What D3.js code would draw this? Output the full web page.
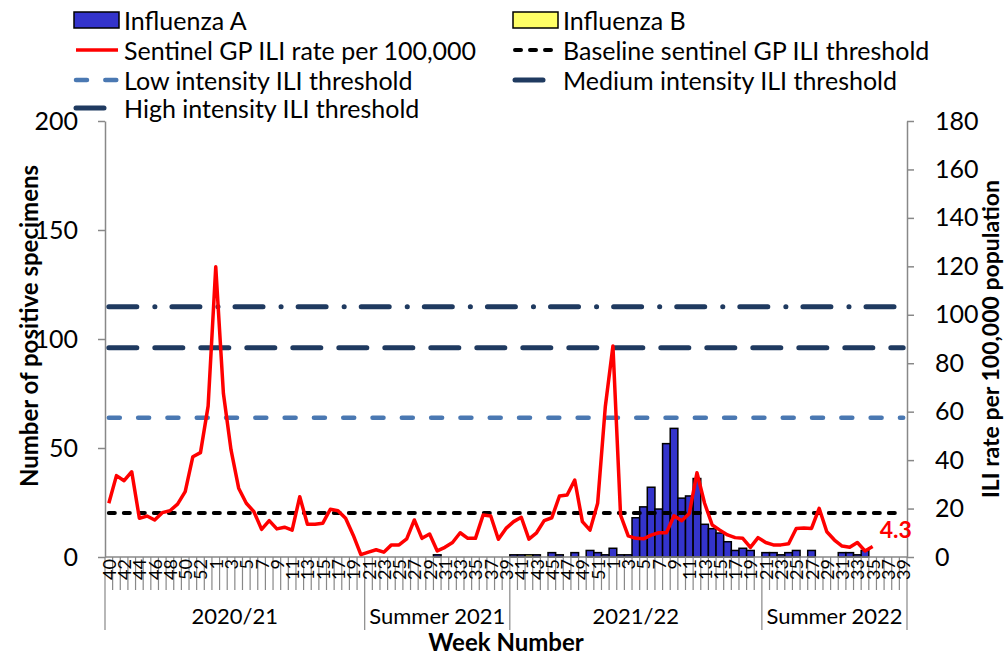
<!DOCTYPE html>
<html>
<head>
<meta charset="utf-8">
<script src="https://cdn.jsdelivr.net/npm/d3@7"></script>
<style>
  body { margin: 0; background: #fff; }
  text { font-family: Lato, "Open Sans", sans-serif; fill: #000; }
</style>
</head>
<body>
<div id="chart"></div>
<script>
// week number of every category on the x axis (Oct 2020 -> Sep 2022)
const weekNums = [40,41,42,43,44,45,46,47,48,49,50,51,52,53,1,2,3,4,5,6,7,8,9,10,11,12,13,14,15,16,17,18,19,20,
  21,22,23,24,25,26,27,28,29,30,31,32,33,34,35,36,37,38,39,
  40,41,42,43,44,45,46,47,48,49,50,51,52,1,2,3,4,5,6,7,8,9,10,11,12,13,14,15,16,17,18,19,20,
  21,22,23,24,25,26,27,28,29,30,31,32,33,34,35,36,37,38,39];
const seasonNames = ["2020/21", "Summer 2021", "2021/22", "Summer 2022"];
const seasonWeeks = [34, 19, 33, 19];

// positive specimens (left axis)
const fluA = [0,0,0,0,0,0,0,0,0,0,0,0,0,0,0,0,0,0,0,0,0,0,0,0,0,0,0,0,0,0,0,0,0,0,
  0,0,0,0,0,0,0,0,0,1,0,0,0,0,0,0,0,0,0,
  1,1,0,1,0,2,1,0,2,0,3,2,1,4,1,1,18,23,32,22,52,59,27,28,36,15,13,11,7,3,4,3,
  0,2,2,1,2,3,0,3,0,0,0,2,2,1,3,0,0,0,0];
const fluB = [0,0,0,0,0,0,0,0,0,0,0,0,0,0,0,0,0,0,0,0,0,0,0,0,0,0,0,0,0,0,0,0,0,0,
  0,0,0,0,0,0,0,0,0,0,0,0,0,0,0,0,0,0,0,
  0,0,1,0,0,0,0,0,0,0,0,0,0,0,0,0,0,0,0,0,0,0,0,0,0,0,0,0,0,0,0,0,0,
  0,0,0,0,0,0,0,0,0,0,0,0,0,0,0,0,0,0,0];
// sentinel GP ILI rate per 100,000 (right axis)
const iliRate = [22.2,33.6,31.5,35.2,16.0,16.9,15.3,18.3,19.1,21.8,27.0,41.4,43.1,62.3,119.8,67.6,44.2,28.4,22.2,18.7,11.4,15.0,11.6,12.3,11.1,24.9,13.5,13.5,13.9,19.7,19.1,16.0,9.0,1.0,
  2.0,3.0,2.0,5.0,5.0,7.5,15.3,7.7,9.5,2.5,4.0,6.0,10.0,7.7,7.7,17.3,16.9,7.3,11.8,
  14.6,16.4,7.4,10.0,15.0,16.2,25.2,25.6,31.8,14.6,11.1,22.2,62.0,87.1,17.3,8.7,7.7,7.5,9.0,10.0,10.0,17.0,15.0,18.0,34.8,22.2,13.2,11.1,9.1,8.0,7.7,4.0,
  8.0,6.0,5.0,5.0,5.5,11.8,12.0,11.8,20.1,10.4,7.0,4.5,4.0,6.0,2.5,4.3,null,null,null,null];
const thresholdNames = ["Baseline sentinel GP ILI threshold", "Low intensity ILI threshold", "Medium intensity ILI threshold", "High intensity ILI threshold"];
const thresholdValues = [18.2, 57.5, 86.4, 103.3];
const leftTicks = [0, 50, 100, 150, 200];
const rightTicks = [0, 20, 40, 60, 80, 100, 120, 140, 160, 180];

const width = 1006, height = 656;
const plot = {left: 105, right: 907, top: 121, bottom: 557};
const navy = "#1f3a60", lightBlue = "#4a78b2";

const svg = d3.select("#chart").append("svg")
    .attr("width", width)
    .attr("height", height);

const idx = d3.range(weekNums.length);
const x = d3.scaleBand().domain(idx).range([plot.left, plot.right]).padding(0);
const yL = d3.scaleLinear().domain([0, 200]).range([plot.bottom, plot.top]);
const yR = d3.scaleLinear().domain([0, 180]).range([plot.bottom, plot.top]);
const cx = i => x(i) + x.bandwidth() / 2;

// axes
const axisColor = "#888";
const gl = svg.append("g")
    .attr("transform", `translate(${plot.left},0)`)
    .call(d3.axisLeft(yL).tickValues(leftTicks).tickSize(7).tickPadding(20).tickSizeOuter(0));
const gr = svg.append("g")
    .attr("transform", `translate(${plot.right},0)`)
    .call(d3.axisRight(yR).tickValues(rightTicks).tickSize(7).tickPadding(21).tickSizeOuter(0));
[gl, gr].forEach(g => {
    g.selectAll("path, line").attr("stroke", axisColor).attr("stroke-width", 1.5);
    g.selectAll("text").style("font-size", "25px").style("font-family", "Lato, sans-serif");
});

// bars, stacked A then B
const stack = idx.map(i => ({i: i, a: fluA[i], b: fluB[i]}));
svg.append("g").selectAll("rect")
    .data(stack.filter(d => d.a > 0))
    .join("rect")
        .attr("x", d => x(d.i))
        .attr("y", d => yL(d.a))
        .attr("width", x.bandwidth())
        .attr("height", d => yL(0) - yL(d.a))
        .attr("fill", "#3434cc")
        .attr("stroke", "#000")
        .attr("stroke-width", 1.5);
svg.append("g").selectAll("rect")
    .data(stack.filter(d => d.b > 0))
    .join("rect")
        .attr("x", d => x(d.i))
        .attr("y", d => yL(d.a + d.b))
        .attr("width", x.bandwidth())
        .attr("height", d => yL(d.a) - yL(d.a + d.b))
        .attr("fill", "#ffff66")
        .attr("stroke", "#000")
        .attr("stroke-width", 1.5);

// x axis: line, tick marks between weeks, longer ones between seasons
const gx = svg.append("g");
gx.append("line")
    .attr("x1", plot.left).attr("x2", plot.right)
    .attr("y1", plot.bottom).attr("y2", plot.bottom)
    .attr("stroke", axisColor).attr("stroke-width", 1.5);
const bounds = [0];
seasonWeeks.forEach((n, k) => bounds.push(bounds[k] + n));
gx.selectAll(".tick")
    .data(d3.range(weekNums.length + 1))
    .join("line")
        .attr("x1", i => i < weekNums.length ? x(i) : plot.right)
        .attr("x2", i => i < weekNums.length ? x(i) : plot.right)
        .attr("y1", plot.bottom)
        .attr("y2", i => bounds.includes(i) ? 630 : 590)
        .attr("stroke", axisColor).attr("stroke-width", 1.2);
gx.selectAll(".wk")
    .data(idx.filter(i => i % 2 === 0))
    .join("text")
        .attr("transform", i => `translate(${cx(i)},559) rotate(-90)`)
        .attr("text-anchor", "end")
        .attr("dominant-baseline", "central")
        .style("font-size", "18px")
        .text(i => weekNums[i]);
gx.selectAll(".season")
    .data(seasonNames)
    .join("text")
        .attr("x", (d, k) => (x(bounds[k]) + (bounds[k + 1] < weekNums.length ? x(bounds[k + 1]) : plot.right)) / 2)
        .attr("y", 615)
        .attr("text-anchor", "middle")
        .attr("dominant-baseline", "central")
        .style("font-size", "22px")
        .text(d => d);

// thresholds as line series across all weeks
const dashes = ["6,9", "11,18.3", "28,18", "28,18,0.1,17"];
const thrColors = ["#000", lightBlue, navy, navy];
const thrWidths = [4, 4.5, 5, 5];
thresholdValues.forEach((v, k) => {
    svg.append("line")
        .attr("x1", cx(0)).attr("x2", cx(weekNums.length - 1))
        .attr("y1", yR(v)).attr("y2", yR(v))
        .attr("stroke", thrColors[k])
        .attr("stroke-width", thrWidths[k])
        .attr("stroke-dasharray", dashes[k])
        .attr("stroke-linecap", "round");
});

// ILI rate line
const line = d3.line()
    .defined(d => d != null)
    .x((d, i) => cx(i))
    .y(d => yR(d));
svg.append("path")
    .datum(iliRate)
    .attr("d", line)
    .attr("fill", "none")
    .attr("stroke", "#ff0000")
    .attr("stroke-width", 3.5)
    .attr("stroke-linejoin", "round");

// latest value label
const lastI = d3.max(idx.filter(i => iliRate[i] != null));
svg.append("text")
    .attr("x", cx(lastI) + 7)
    .attr("y", yR(iliRate[lastI]) - 9)
    .style("font-size", "23px")
    .style("font-weight", "bold")
    .style("fill", "#ff0000")
    .text(iliRate[lastI]);

// axis titles
svg.append("text")
    .attr("transform", "translate(28,326) rotate(-90)")
    .attr("text-anchor", "middle")
    .attr("dominant-baseline", "central")
    .style("font-size", "24px").style("font-weight", "bold")
    .text("Number of positive specimens");
svg.append("text")
    .attr("transform", `translate(990,${(plot.top + plot.bottom) / 2}) rotate(-90)`)
    .attr("text-anchor", "middle")
    .attr("dominant-baseline", "central")
    .style("font-size", "23px").style("font-weight", "bold")
    .text("ILI rate per 100,000 population");
svg.append("text")
    .attr("x", (plot.left + plot.right) / 2)
    .attr("y", 641)
    .attr("text-anchor", "middle")
    .attr("dominant-baseline", "central")
    .style("font-size", "24px").style("font-weight", "bold")
    .text("Week Number");

// legend
const legend = svg.append("g");
const legendItems = [
    {label: "Influenza A", type: "rect", fill: "#3434cc", col: 0, row: 0},
    {label: "Influenza B", type: "rect", fill: "#ffff66", col: 1, row: 0},
    {label: "Sentinel GP ILI rate per 100,000", type: "line", color: "#ff0000", w: 3.5, dash: null, col: 0, row: 1},
    {label: thresholdNames[0], type: "line", color: "#000", w: 4, dash: dashes[0], col: 1, row: 1},
    {label: thresholdNames[1], type: "line", color: lightBlue, w: 4.5, dash: dashes[1], col: 0, row: 2},
    {label: thresholdNames[2], type: "line", color: navy, w: 5, dash: dashes[2], col: 1, row: 2},
    {label: thresholdNames[3], type: "line", color: navy, w: 5, dash: dashes[3], col: 0, row: 3}
];
const colX = [74, 513], rowY = [20, 50, 80, 108];
legendItems.forEach(d => {
    const lx = colX[d.col], ly = rowY[d.row];
    if (d.type === "rect") {
        legend.append("rect")
            .attr("x", lx).attr("y", ly - 8)
            .attr("width", 45).attr("height", 16)
            .attr("fill", d.fill).attr("stroke", "#000").attr("stroke-width", 1.5);
    } else {
        legend.append("line")
            .attr("x1", lx + 2).attr("x2", lx + 44)
            .attr("y1", ly).attr("y2", ly)
            .attr("stroke", d.color)
            .attr("stroke-width", d.w)
            .attr("stroke-dasharray", d.dash)
            .attr("stroke-linecap", d.dash ? "round" : "butt");
    }
    legend.append("text")
        .attr("x", lx + 50).attr("y", ly)
        .attr("dominant-baseline", "central")
        .style("font-size", "25px")
        .text(d.label);
});
</script>
</body>
</html>
